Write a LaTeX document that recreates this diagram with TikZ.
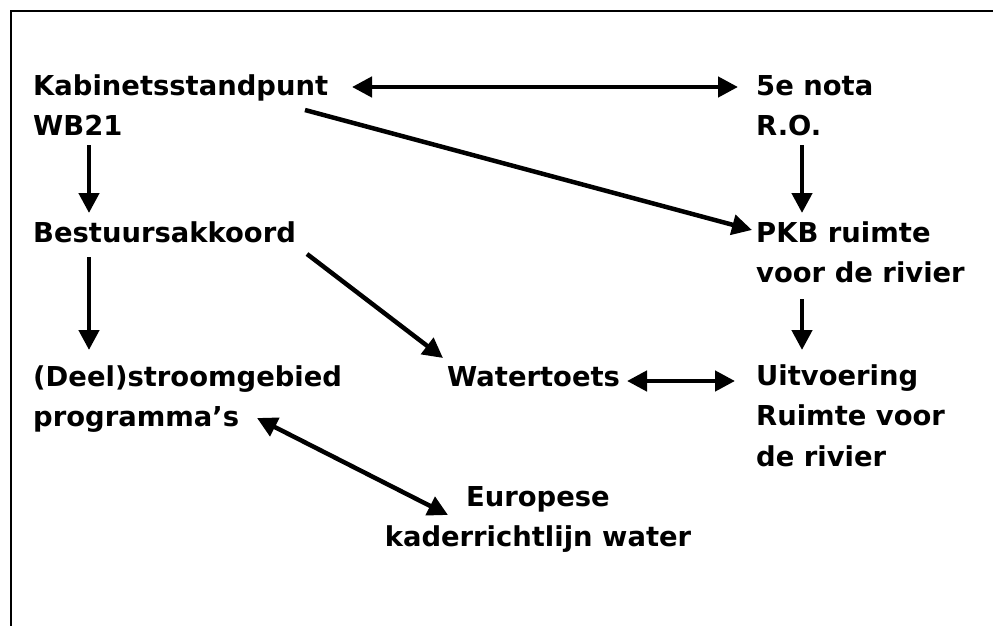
\documentclass[tikz,border=0pt]{standalone}
\usepackage{fontspec}
\setmainfont{DejaVu Sans}
\usetikzlibrary{arrows.meta,calc}
\begin{document}
\begin{tikzpicture}[x=1pt,y=-1pt,
  label text/.style={inner sep=0pt, align=left, anchor=base west,
    font=\fontsize{27.4pt}{40.5pt}\selectfont\bfseries},
  arr/.style={line width=4.5pt, -{Triangle[length=20pt,width=20pt]}},
  darr/.style={line width=4.5pt, {Triangle[length=20pt,width=20pt]}-{Triangle[length=20pt,width=20pt]}},
  frame/.style={line width=2.2pt}]
\useasboundingbox (0,0) rectangle (993,626);
% open frame: top and left edges
\draw[frame] (993,11) -- (11,11) -- (11,626);

% text blocks, placed by the baseline of their last line
\node[label text] (kab)   at (33,135.5)  {Kabinetsstandpunt\\WB21};
\node[label text] (nota)  at (756,135.5) {5e nota\\R.O.};
\node[label text] (best)  at (33,242)    {Bestuursakkoord};
\node[label text] (pkb)   at (756,282.5) {PKB ruimte\\voor de rivier};
\node[label text] (deel)  at (33,426.5)  {(Deel)stroomgebied\\programma’s};
\node[label text] (water) at (447,386)   {Watertoets};
\node[label text] (uit)   at (756,466)   {Uitvoering\\Ruimte voor\\de rivier};
\node[label text, align=center, anchor=base] (eur) at (538,546.5) {Europese\\kaderrichtlijn water};

% connectors
\draw[darr] ($(kab.base west)+(319,-48.5)$) -- ($(nota.base west)+(-18,-48.5)$);
\draw[arr]  ($(kab.base west)+(272,-25.5)$) -- ($(pkb.base west)+(-4,-52.5)$);
\draw[arr]  ($(kab.base west)+(56,9.5)$) -- ($(best.base west)+(56,-29)$);
\draw[arr]  ($(nota.base west)+(46,9.5)$) -- ($(pkb.base west)+(46,-69.5)$);
\draw[arr]  ($(best.base west)+(56,15)$) -- ($(deel.base west)+(56,-76.5)$);
\draw[arr]  ($(best.base west)+(274,12)$) -- ($(water.base west)+(-4,-28)$);
\draw[arr]  ($(pkb.base west)+(46,16.5)$) -- ($(uit.base west)+(46,-116)$);
\draw[darr] ($(water.base west)+(180,-5)$) -- ($(uit.base west)+(-21,-85)$);
\draw[darr] ($(deel.base west)+(224,-8.5)$) -- ($(eur.base)+(-90,-31.5)$);
\end{tikzpicture}
\end{document}
